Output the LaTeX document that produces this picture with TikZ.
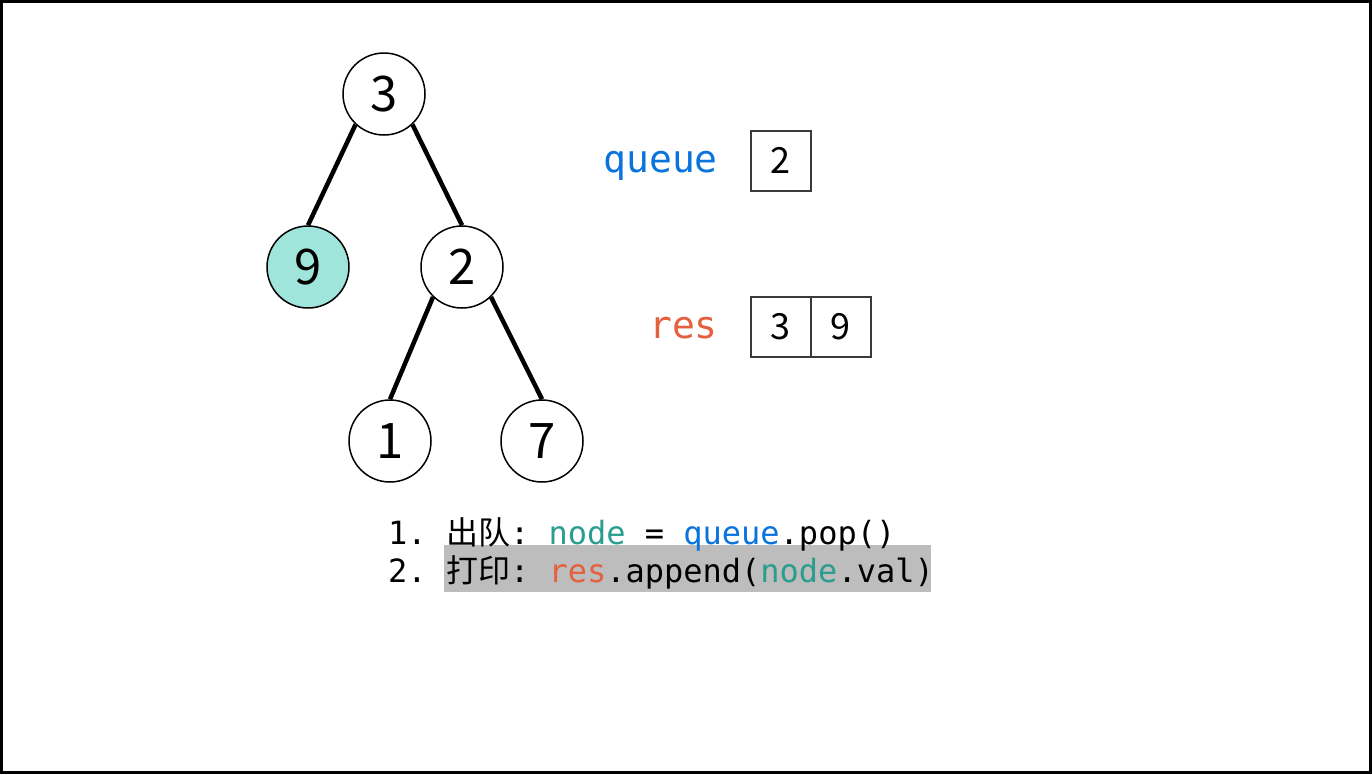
\documentclass[tikz,border=0pt]{standalone}
\usepackage{fontspec}
\setmainfont{Noto Sans CJK SC}
\setmonofont{DejaVu Sans Mono}
\newfontfamily\cjk{Noto Sans CJK SC}
\definecolor{qblue}{HTML}{0A73DC}
\definecolor{rorange}{HTML}{E5603F}
\definecolor{nteal}{HTML}{2A9D8E}
\definecolor{vfill}{HTML}{9FE5DB}
\definecolor{hlgray}{HTML}{BDBDBD}
\definecolor{boxgray}{HTML}{3A3A3A}
\tikzset{
  treenode/.style={circle, draw=black, line width=1.5pt, minimum size=82pt, inner sep=0pt, font=\fontsize{49}{51}\selectfont, fill=white},
  visited/.style={treenode, fill=vfill},
  edge/.style={line width=4.5pt, line cap=butt},
  cell/.style={rectangle, draw=boxgray, line width=2pt, minimum size=60pt, inner sep=0pt, font=\fontsize{36}{38}\selectfont},
  lbl/.style={anchor=base east, inner sep=0pt, font=\ttfamily\fontsize{38}{40}\selectfont},
  code/.style={anchor=base west, inner sep=0pt, font=\ttfamily\fontsize{32}{34}\selectfont},
}
\begin{document}
\begin{tikzpicture}[x=1pt, y=-1pt]
\useasboundingbox (0,0) rectangle (1372,774);
\draw[line width=3pt] (1.5,1.5) rectangle (1370.5,772.5);
% tree
\node[treenode] (n3) at (384,94) {3};
\node[visited] (n9) at (308,267) {9};
\node[treenode] (n2) at (462,267) {2};
\node[treenode] (n1) at (390,441) {1};
\node[treenode] (n7) at (542,441) {7};
\draw[edge] (n3.227) -- (n9.north);
\draw[edge] (n3.313) -- (n2.north);
\draw[edge] (n2.226) -- (n1.north);
\draw[edge] (n2.314) -- (n7.north);
% queue and res
\node[lbl, text=qblue] (qlab) at (718,172) {queue};
\node[cell] (q1) at (780.5,160.5) {2};
\node[lbl, text=rorange] (rlab) at (718,338) {res};
\node[cell] (r1) at (780.5,326.5) {3};
\node[cell] (r2) at (840.5,326.5) {9};
% code
\node[fill=hlgray, minimum width=487pt, minimum height=47pt, inner sep=0pt] (hl) at (687.5,568.5) {};
\node[code] (c1) at (388,544) {1. {\cjk 出队}: \textcolor{nteal}{node} = \textcolor{qblue}{queue}.pop()};
\node[code] (c2) at (388,582) {2. {\cjk 打印}: \textcolor{rorange}{res}.append(\textcolor{nteal}{node}.val)};
\end{tikzpicture}
\end{document}
